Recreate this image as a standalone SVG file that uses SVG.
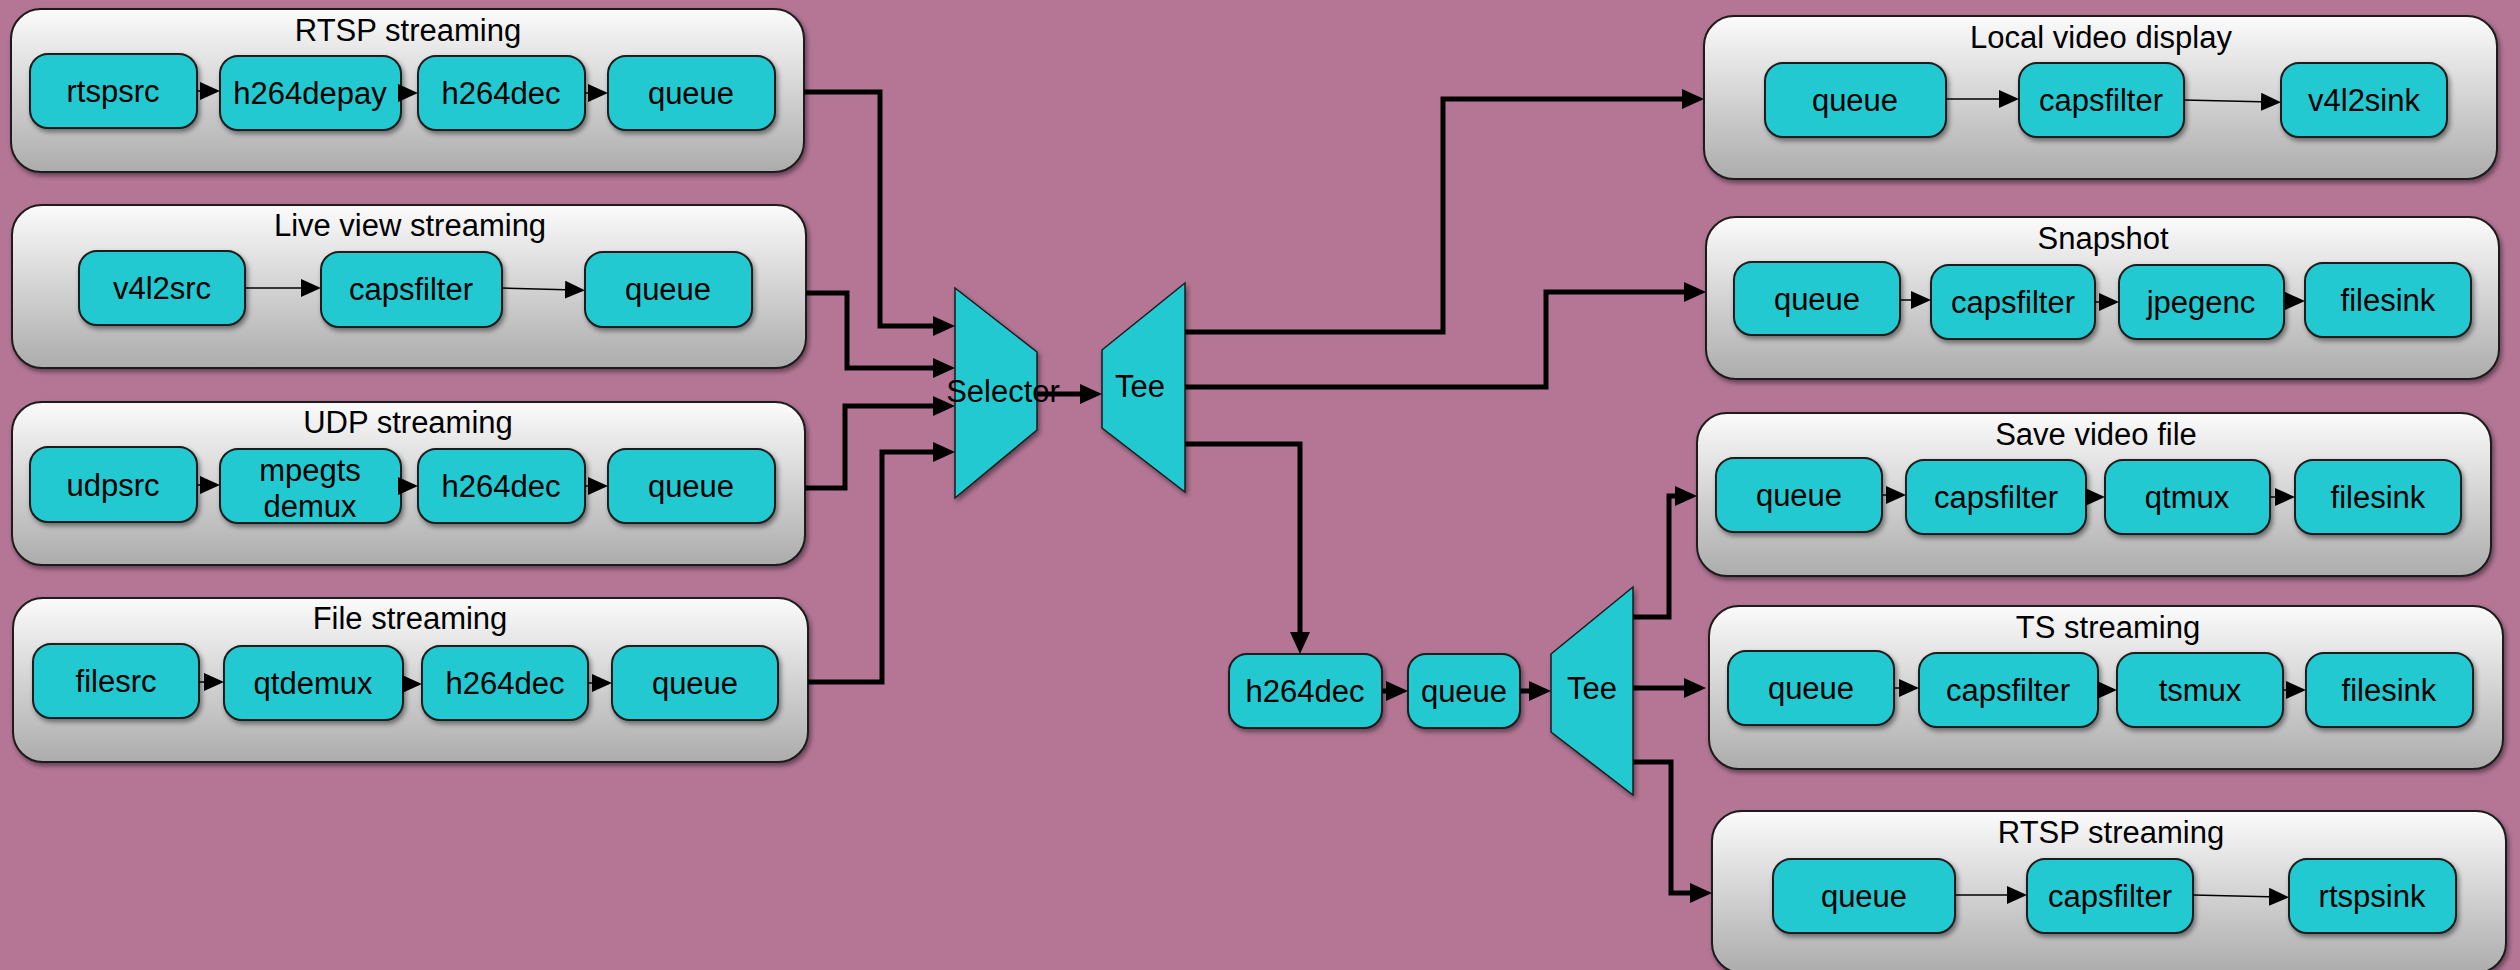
<svg xmlns="http://www.w3.org/2000/svg" width="2520" height="970" viewBox="0 0 2520 970">
<defs>
<linearGradient id="gg" x1="0" y1="0" x2="0" y2="1">
<stop offset="0" stop-color="#fbfbfb"/>
<stop offset="1" stop-color="#acacac"/>
</linearGradient>
<filter id="sh" x="-10%" y="-10%" width="120%" height="130%">
<feDropShadow dx="2" dy="3" stdDeviation="2.5" flood-color="#000" flood-opacity="0.45"/>
</filter>
<marker id="ah" markerUnits="userSpaceOnUse" viewBox="0 0 22 20" refX="12" refY="10" markerWidth="22" markerHeight="20" orient="auto">
<path d="M0,0 L22,10 L0,20 z" fill="#000"/>
</marker>
<marker id="sa" markerUnits="userSpaceOnUse" viewBox="0 0 20 18" refX="10" refY="9" markerWidth="20" markerHeight="18" orient="auto">
<path d="M0,0 L20,9 L0,18 z" fill="#000"/>
</marker>
<style>
.bg{fill:#b57696}
.grp{fill:url(#gg);stroke:#1a1a1a;stroke-width:2;filter:url(#sh)}
.nd{fill:#22c9d0;stroke:#1a1a1a;stroke-width:2;filter:url(#sh)}
.tr{fill:#22c9d0;stroke:#1a1a1a;stroke-width:1.5;filter:url(#sh)}
text{font-family:"Liberation Sans",Arial,Helvetica,sans-serif;font-size:31px;fill:#000;text-anchor:middle}
.thick{fill:none;stroke:#000;stroke-width:5;marker-end:url(#ah)}
.thin{fill:none;stroke:#000;stroke-width:1.5;marker-end:url(#sa)}
.gap{fill:none;stroke:#000;stroke-width:1.5;marker-end:url(#sa)}
</style>
</defs>
<rect class="bg" x="0" y="0" width="2520" height="970"/>

<!-- Left groups -->
<g id="g-rtsp-in">
<rect class="grp" x="11" y="9" width="793" height="163" rx="30"/>
<text x="408" y="41">RTSP streaming</text>
<g id="n-rtspsrc"><rect class="nd" x="30" y="54" width="167" height="74" rx="18"/><text x="113" y="102">rtspsrc</text></g>
<g id="n-h264depay"><rect class="nd" x="220" y="56" width="181" height="74" rx="18"/><text x="310" y="104">h264depay</text></g>
<g id="n-h264dec1"><rect class="nd" x="418" y="56" width="167" height="74" rx="18"/><text x="501" y="104">h264dec</text></g>
<g id="n-queue1"><rect class="nd" x="608" y="56" width="167" height="74" rx="18"/><text x="691" y="104">queue</text></g>
</g>

<g id="g-live">
<rect class="grp" x="12" y="205" width="794" height="163" rx="30"/>
<text x="410" y="236">Live view streaming</text>
<g id="n-v4l2src"><rect class="nd" x="79" y="251" width="166" height="74" rx="18"/><text x="162" y="299">v4l2src</text></g>
<g id="n-capsfilter1"><rect class="nd" x="321" y="252" width="181" height="75" rx="18"/><text x="411" y="300">capsfilter</text></g>
<g id="n-queue2"><rect class="nd" x="585" y="252" width="167" height="75" rx="18"/><text x="668" y="300">queue</text></g>
</g>

<g id="g-udp">
<rect class="grp" x="12" y="402" width="793" height="163" rx="30"/>
<text x="408" y="433">UDP streaming</text>
<g id="n-udpsrc"><rect class="nd" x="30" y="447" width="167" height="75" rx="18"/><text x="113" y="496">udpsrc</text></g>
<g id="n-mpegts"><rect class="nd" x="220" y="449" width="181" height="74" rx="18"/><text x="310" y="481">mpegts</text><text x="310" y="517">demux</text></g>
<g id="n-h264dec2"><rect class="nd" x="418" y="449" width="167" height="74" rx="18"/><text x="501" y="497">h264dec</text></g>
<g id="n-queue3"><rect class="nd" x="608" y="449" width="167" height="74" rx="18"/><text x="691" y="497">queue</text></g>
</g>

<g id="g-file">
<rect class="grp" x="13" y="598" width="795" height="164" rx="30"/>
<text x="410" y="629">File streaming</text>
<g id="n-filesrc"><rect class="nd" x="33" y="644" width="166" height="74" rx="18"/><text x="116" y="692">filesrc</text></g>
<g id="n-qtdemux"><rect class="nd" x="224" y="646" width="179" height="74" rx="18"/><text x="313" y="694">qtdemux</text></g>
<g id="n-h264dec3"><rect class="nd" x="422" y="646" width="166" height="74" rx="18"/><text x="505" y="694">h264dec</text></g>
<g id="n-queue4"><rect class="nd" x="612" y="646" width="166" height="74" rx="18"/><text x="695" y="694">queue</text></g>
</g>

<!-- Center -->
<g id="n-selector">
<polygon class="tr" points="955,288 1037,352 1037,430 955,498"/>
<text x="1003" y="402">Selector</text>
</g>
<g id="n-tee1">
<polygon class="tr" points="1102,350 1185,283 1185,492 1102,428"/>
<text x="1140" y="397">Tee</text>
</g>
<g id="n-h264dec4"><rect class="nd" x="1229" y="654" width="153" height="74" rx="18"/><text x="1305" y="702">h264dec</text></g>
<g id="n-queue5"><rect class="nd" x="1408" y="654" width="112" height="74" rx="18"/><text x="1464" y="702">queue</text></g>
<g id="n-tee2">
<polygon class="tr" points="1551,654 1633,587 1633,795 1551,732"/>
<text x="1592" y="699">Tee</text>
</g>

<!-- Right groups -->
<g id="g-local">
<rect class="grp" x="1704" y="16" width="793" height="163" rx="30"/>
<text x="2101" y="48">Local video display</text>
<g id="n-queue6"><rect class="nd" x="1765" y="63" width="181" height="74" rx="18"/><text x="1855" y="111">queue</text></g>
<g id="n-capsfilter2"><rect class="nd" x="2019" y="63" width="165" height="74" rx="18"/><text x="2101" y="111">capsfilter</text></g>
<g id="n-v4l2sink"><rect class="nd" x="2281" y="63" width="166" height="74" rx="18"/><text x="2364" y="111">v4l2sink</text></g>
</g>

<g id="g-snapshot">
<rect class="grp" x="1706" y="217" width="793" height="162" rx="30"/>
<text x="2103" y="249">Snapshot</text>
<g id="n-queue7"><rect class="nd" x="1734" y="262" width="166" height="73" rx="18"/><text x="1817" y="310">queue</text></g>
<g id="n-capsfilter3"><rect class="nd" x="1931" y="265" width="164" height="74" rx="18"/><text x="2013" y="313">capsfilter</text></g>
<g id="n-jpegenc"><rect class="nd" x="2119" y="265" width="165" height="74" rx="18"/><text x="2201" y="313">jpegenc</text></g>
<g id="n-filesink1"><rect class="nd" x="2305" y="263" width="166" height="74" rx="18"/><text x="2388" y="311">filesink</text></g>
</g>

<g id="g-save">
<rect class="grp" x="1697" y="413" width="794" height="163" rx="30"/>
<text x="2096" y="445">Save video file</text>
<g id="n-queue8"><rect class="nd" x="1716" y="458" width="166" height="74" rx="18"/><text x="1799" y="506">queue</text></g>
<g id="n-capsfilter4"><rect class="nd" x="1906" y="460" width="180" height="74" rx="18"/><text x="1996" y="508">capsfilter</text></g>
<g id="n-qtmux"><rect class="nd" x="2105" y="460" width="165" height="74" rx="18"/><text x="2187" y="508">qtmux</text></g>
<g id="n-filesink2"><rect class="nd" x="2295" y="460" width="166" height="74" rx="18"/><text x="2378" y="508">filesink</text></g>
</g>

<g id="g-ts">
<rect class="grp" x="1709" y="606" width="794" height="163" rx="30"/>
<text x="2108" y="638">TS streaming</text>
<g id="n-queue9"><rect class="nd" x="1728" y="651" width="166" height="74" rx="18"/><text x="1811" y="699">queue</text></g>
<g id="n-capsfilter5"><rect class="nd" x="1919" y="653" width="179" height="74" rx="18"/><text x="2008" y="701">capsfilter</text></g>
<g id="n-tsmux"><rect class="nd" x="2117" y="653" width="166" height="74" rx="18"/><text x="2200" y="701">tsmux</text></g>
<g id="n-filesink3"><rect class="nd" x="2306" y="653" width="167" height="74" rx="18"/><text x="2389" y="701">filesink</text></g>
</g>

<g id="g-rtsp-out">
<rect class="grp" x="1712" y="811" width="794" height="162" rx="30"/>
<text x="2111" y="843">RTSP streaming</text>
<g id="n-queue10"><rect class="nd" x="1773" y="859" width="182" height="74" rx="18"/><text x="1864" y="907">queue</text></g>
<g id="n-capsfilter6"><rect class="nd" x="2027" y="859" width="166" height="74" rx="18"/><text x="2110" y="907">capsfilter</text></g>
<g id="n-rtspsink"><rect class="nd" x="2289" y="859" width="167" height="74" rx="18"/><text x="2372" y="907">rtspsink</text></g>
</g>

<!-- Connectors -->
<g id="connectors">
<!-- inside left groups -->
<path class="gap" d="M197,91 H210"/>
<path class="gap" d="M401,93 H408"/>
<path class="gap" d="M585,93 H598"/>
<path class="thin" d="M245,288 H311"/>
<path class="thin" d="M502,288 L575,290"/>
<path class="gap" d="M197,485 H210"/>
<path class="gap" d="M401,486 H408"/>
<path class="gap" d="M585,486 H598"/>
<path class="gap" d="M199,682 H214"/>
<path class="gap" d="M403,684 H412"/>
<path class="gap" d="M588,683 H602"/>
<!-- to selector -->
<path class="thick" d="M804,92 H880 V326 H945"/>
<path class="thick" d="M806,293 H847 V368 H945"/>
<path class="thick" d="M805,488 H845 V406 H945"/>
<path class="thick" d="M808,682 H882 V452 H945"/>
<path class="thick" d="M1037,394 H1092"/>
<!-- from tee1 -->
<path class="thick" d="M1185,332 H1443 V99 H1694"/>
<path class="thick" d="M1185,387 H1546 V292 H1696"/>
<path class="thick" d="M1185,444 H1300 V644"/>
<path class="thick" d="M1382,691 H1398"/>
<path class="thick" d="M1520,691 H1541"/>
<!-- from tee2 -->
<path class="thick" d="M1633,617 H1669 V496 H1687"/>
<path class="thick" d="M1633,688 H1696"/>
<path class="thick" d="M1633,762 H1671 V893 H1702"/>
<!-- inside right groups -->
<path class="thin" d="M1946,99 H2009"/>
<path class="thin" d="M2184,100 L2271,102"/>
<path class="gap" d="M1900,300 H1921"/>
<path class="gap" d="M2095,302 H2109"/>
<path class="gap" d="M2284,301 H2295"/>
<path class="gap" d="M1882,495 H1896"/>
<path class="gap" d="M2086,497 H2095"/>
<path class="gap" d="M2270,497 H2285"/>
<path class="gap" d="M1894,688 H1909"/>
<path class="gap" d="M2098,690 H2107"/>
<path class="gap" d="M2283,690 H2296"/>
<path class="thin" d="M1955,895 H2017"/>
<path class="thin" d="M2193,895 L2279,897"/>
</g>
</svg>
